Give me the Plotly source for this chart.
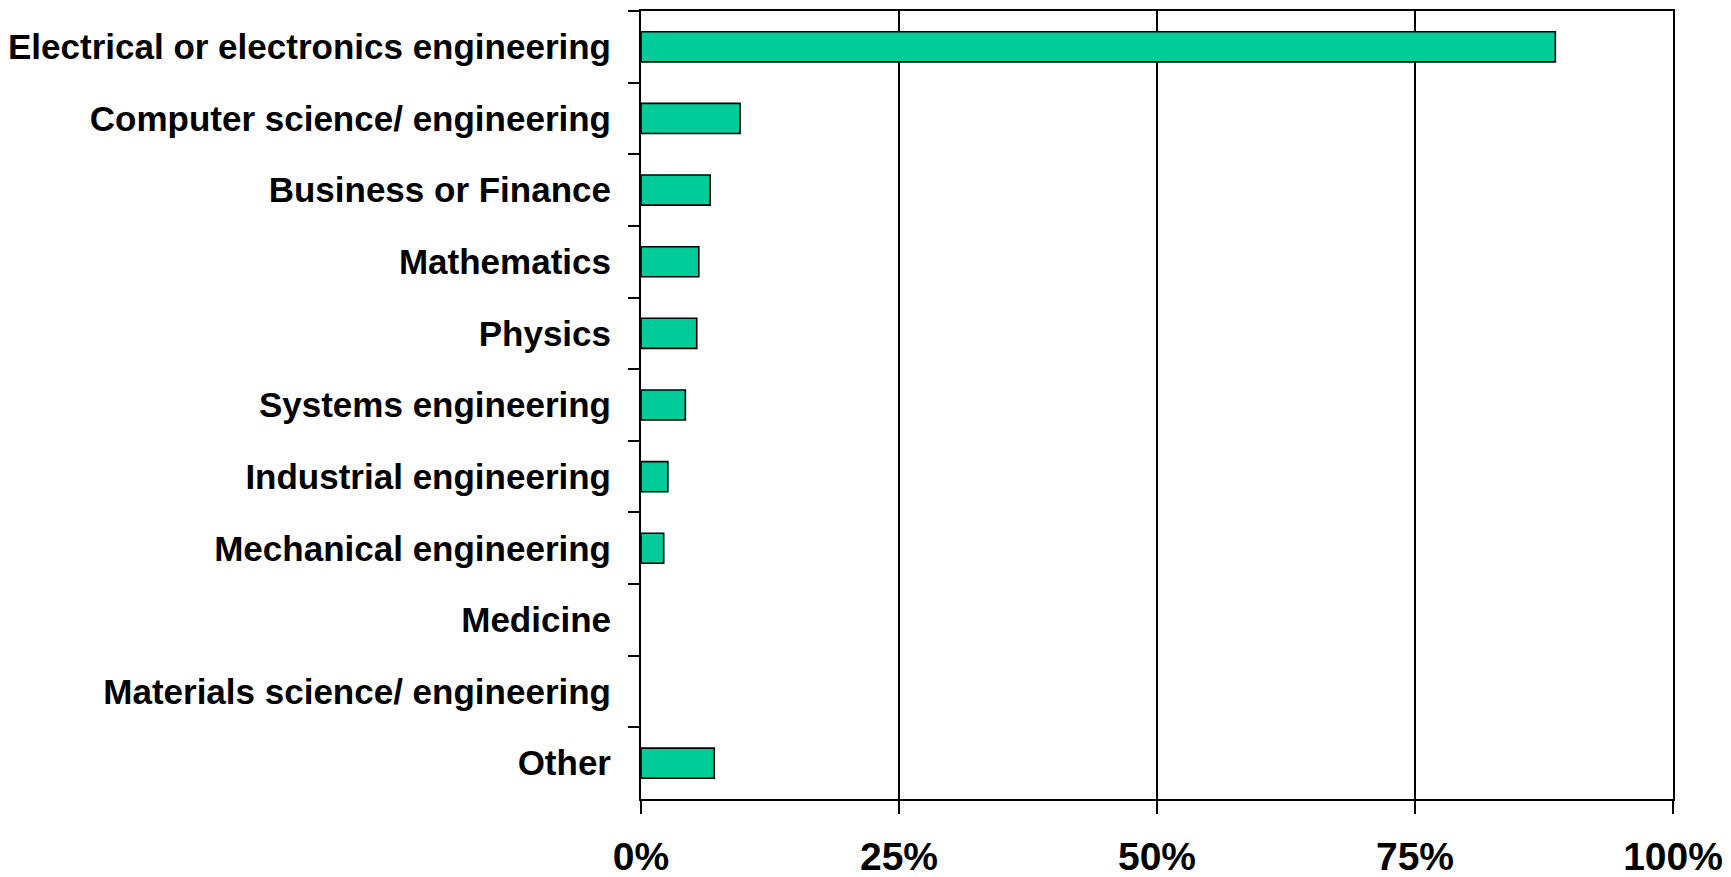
import plotly.graph_objects as go

categories = [
    "Electrical or electronics engineering",
    "Computer science/ engineering",
    "Business or Finance",
    "Mathematics",
    "Physics",
    "Systems engineering",
    "Industrial engineering",
    "Mechanical engineering",
    "Medicine",
    "Materials science/ engineering",
    "Other",
]
values = [88.6, 9.6, 6.7, 5.6, 5.4, 4.3, 2.6, 2.2, 0.0, 0.0, 7.1]
x_ticks = [0, 25, 50, 75, 100]
x_tick_labels = ["0%", "25%", "50%", "75%", "100%"]

FONT = "Liberation Sans, Arial, sans-serif"

# no outline for empty (zero) bars
outline_widths = [1.6 if v > 0 else 0 for v in values]

fig = go.Figure(
    go.Bar(
        y=categories,
        x=values,
        orientation="h",
        marker=dict(color="#00CC99", line=dict(color="black", width=outline_widths)),
        hoverinfo="x+y",
    )
)

# page body has an 8px default margin; size the figure so the plot lands where the reference has it
fig.update_layout(
    width=1723,
    height=869,
    margin=dict(l=633, r=58, t=3, b=78),
    paper_bgcolor="white",
    plot_bgcolor="white",
    bargap=0.58,
    showlegend=False,
)

fig.update_xaxes(
    range=[0, 100],
    tickvals=x_ticks,
    ticktext=x_tick_labels,
    ticks="outside",
    ticklen=13,
    tickwidth=1.6,
    tickcolor="black",
    showgrid=True,
    gridcolor="black",
    gridwidth=1.6,
    showline=True,
    linecolor="black",
    linewidth=1.6,
    mirror=True,
    zeroline=False,
    automargin=False,
    tickfont=dict(family=FONT, size=39, color="black", weight="bold"),
    ticklabelstandoff=9,
)

fig.update_yaxes(
    categoryorder="array",
    categoryarray=categories,
    autorange="reversed",
    ticks="outside",
    tickson="boundaries",
    ticklen=11,
    tickwidth=1.6,
    tickcolor="black",
    showgrid=False,
    showline=True,
    linecolor="black",
    linewidth=2,
    mirror=True,
    automargin=False,
    tickfont=dict(family=FONT, size=35, color="black", weight="bold"),
    ticklabelstandoff=21,
)

fig.write_html("out.html")
